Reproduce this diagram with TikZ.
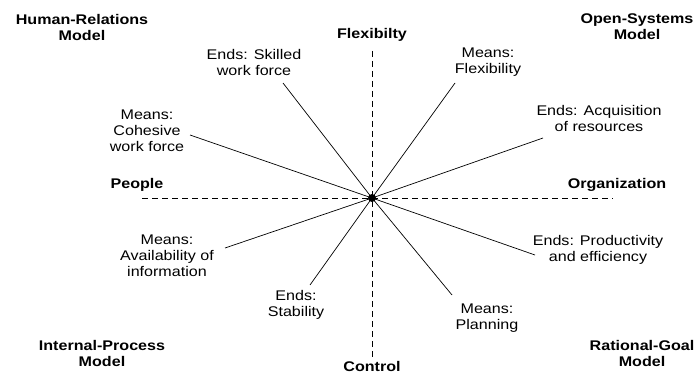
\documentclass[tikz,border=0pt]{standalone}
\usepackage{fontspec}
\setmainfont[FakeStretch=1.15]{Liberation Sans}
\usetikzlibrary{positioning}
\tikzset{axis/.style = {dash pattern = on 6pt off 4pt, line width = 0.8pt}}
\tikzset{spoke/.style = {line width = 0.7pt}}
\tikzset{model/.style = {font = \fontsize{14}{16}\selectfont\bfseries, align = center, inner sep = 0}}
\tikzset{aim/.style = {font = \fontsize{14}{16}\selectfont, align = center, inner sep = 0}}
\tikzset{circ/.style = {fill, circle, inner sep = 0, minimum size = 8}}

\begin{document}
\begin{tikzpicture}[x=1pt, y=-1pt]
      \useasboundingbox (0, 0) rectangle (699, 374);

      % the two axes
      \coordinate (c) at (372, 198);
      \coordinate (top) at (372, 51);
      \coordinate (bottom) at (372, 359);
      \coordinate (left) at (142, 198);
      \coordinate (right) at (613, 198);
      \draw [axis] (top) -- (bottom);
      \draw [axis] (left) -- (right);

      \node [model] (flex) at (372, 35) {Flexibilty};
      \node [model] (ctrl) at (372, 366) {Control};
      \node [model] (people) at (137, 185) {People};
      \node [model] (org) at (617, 185) {Organization};

      % corners
      \node [model] (hr) at (82, 27) {Human-Relations\\Model};
      \node [model] (os) at (637, 27) {Open-Systems\\Model};
      \node [model] (ip) at (102, 353) {Internal-Process\\Model};
      \node [model] (rg) at (642, 353) {Rational-Goal\\Model};

      % means and ends
      \node [aim] (skilled) at (254, 62) {Ends: Skilled\\work force};
      \node [aim] (cohesive) at (147, 131) {Means:\\Cohesive\\work force};
      \node [aim] (flexmeans) at (488, 62) {Means:\\Flexibility};
      \node [aim] (acquis) at (599, 118) {Ends: Acquisition\\of resources};
      \node [aim] (avail) at (167, 256) {Means:\\Availability of\\information};
      \node [aim] (stab) at (296, 305) {Ends:\\Stability};
      \node [aim] (prod) at (598, 250) {Ends: Productivity\\and efficiency};
      \node [aim] (plan) at (487, 318) {Means:\\Planning};

      \coordinate (skilled-e) at (283, 83);
      \coordinate (cohesive-e) at (190, 135);
      \coordinate (flexmeans-e) at (455, 83);
      \coordinate (acquis-e) at (543, 138);
      \coordinate (avail-e) at (225, 248);
      \coordinate (stab-e) at (310, 285);
      \coordinate (prod-e) at (535, 255);
      \coordinate (plan-e) at (452, 295);

      \foreach \e in {skilled, cohesive, flexmeans, acquis, avail, stab, prod, plan}
        \draw [spoke] (c) -- (\e-e);

      \node [circ] (hub) at (c) {};
    \end{tikzpicture}
\end{document}
